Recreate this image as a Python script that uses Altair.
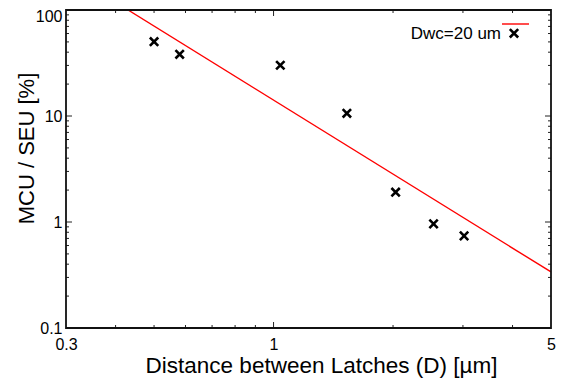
import altair as alt
import pandas as pd

# data
dist = [0.50, 0.58, 1.04, 1.53, 2.03, 2.53, 3.02]
ratio = [50.2, 38.2, 30.1, 10.6, 1.91, 0.96, 0.74]
fit_x = [0.43, 5.0]
fit_y = [100.0, 0.338]
x_tick_labels = [0.3, 1, 5]
y_tick_labels = [0.1, 1, 10, 100]
x_minor = [0.4, 0.5, 0.6, 0.7, 0.8, 0.9, 2, 3, 4]
x_major = [1]
y_minor = [0.2, 0.3, 0.4, 0.5, 0.6, 0.7, 0.8, 0.9,
           2, 3, 4, 5, 6, 7, 8, 9,
           20, 30, 40, 50, 60, 70, 80, 90]
y_major = [1, 10]
legend_label = "Dwc=20 um"

W, H = 485, 318
FONT = "Liberation Sans"
CROSS = "M-1,-1L1,1M-1,1L1,-1"
xs = alt.Scale(type="log", domain=[0.3, 5])
ys = alt.Scale(type="log", domain=[0.1, 100])

X_AXIS = alt.Axis(
    values=x_tick_labels, format="~g", ticks=False, domain=False, grid=False,
    labelFontSize=16, labelFont=FONT, labelColor="black", labelPadding=8,
    labelFlush=False,
    title="Distance between Latches (D) [µm]", titleFontSize=22.5, titleFont=FONT,
    titleFontWeight="normal", titleColor="black", titleX=255, titleY=44,
    titleBaseline="alphabetic", titleAlign="center")
Y_AXIS = alt.Axis(
    values=y_tick_labels, format="~g", ticks=False, domain=False, grid=False,
    labelFontSize=16, labelFont=FONT, labelColor="black", labelPadding=4,
    labelFlush=False,
    labelOffset={"condition": {"test": "datum.value >= 100", "value": 6.5}, "value": 0},
    title="MCU / SEU [%]", titleFontSize=22, titleFont=FONT,
    titleFontWeight="normal", titleColor="black", titleAngle=270,
    titleX=-33, titleY=138, titleBaseline="alphabetic", titleAlign="center")

def X(field):
    return alt.X(field, scale=xs, axis=X_AXIS)

def Y(field):
    return alt.Y(field, scale=ys, axis=Y_AXIS)

pts = pd.DataFrame({"D": dist, "R": ratio})
fit = pd.DataFrame({"D": fit_x, "R": fit_y})

fit_line = alt.Chart(fit).mark_line(color="#ff0000", strokeWidth=1.4, clip=True).encode(
    x=X("D:Q"), y=Y("R:Q"))

points = alt.Chart(pts).mark_point(
    shape=CROSS, size=70, strokeWidth=2.6, color="black", filled=False, opacity=1
).encode(x=X("D:Q"), y=Y("R:Q"))

def xticks(vals, length):
    df = pd.DataFrame({"D": vals})
    b = alt.Chart(df).mark_rule(color="#222", strokeWidth=1).encode(
        x=X("D:Q"), y=alt.value(H), y2=alt.value(H - length))
    t = alt.Chart(df).mark_rule(color="#222", strokeWidth=1).encode(
        x=X("D:Q"), y=alt.value(0), y2=alt.value(length))
    return [b, t]

def yticks(vals, length):
    df = pd.DataFrame({"R": vals})
    l = alt.Chart(df).mark_rule(color="#222", strokeWidth=1).encode(
        y=Y("R:Q"), x=alt.value(0), x2=alt.value(length))
    r = alt.Chart(df).mark_rule(color="#222", strokeWidth=1).encode(
        y=Y("R:Q"), x=alt.value(W), x2=alt.value(W - length))
    return [l, r]

ticks = xticks(x_minor, 3) + xticks(x_major, 6) + yticks(y_minor, 3) + yticks(y_major, 6)

leg = pd.DataFrame({"label": [legend_label]})
frame = alt.Chart(leg).mark_rect(fill=None, stroke="#111", strokeWidth=1.8).encode(
    x=alt.value(0), x2=alt.value(W), y=alt.value(0), y2=alt.value(H))
leg_text = alt.Chart(leg).mark_text(
    align="right", baseline="middle", font=FONT, fontSize=17, color="black"
).encode(text="label:N", x=alt.value(435), y=alt.value(23.5))
leg_line = alt.Chart(leg).mark_rule(color="#ff0000", strokeWidth=1.4).encode(
    x=alt.value(436), x2=alt.value(463), y=alt.value(14))
leg_mark = alt.Chart(leg).mark_point(
    shape=CROSS, size=70, strokeWidth=2.6, color="black", filled=False, opacity=1
).encode(x=alt.value(448), y=alt.value(23.3))

chart = alt.layer(fit_line, points, *ticks, frame, leg_text, leg_line, leg_mark).properties(
    width=W, height=H,
    background="white",
    autosize=alt.AutoSizeParams(type="none"),
    padding={"left": 58, "top": 2, "right": 5, "bottom": 51},
).configure_view(stroke=None)

chart.save("out.html", embed_options={"renderer": "svg", "actions": False})
